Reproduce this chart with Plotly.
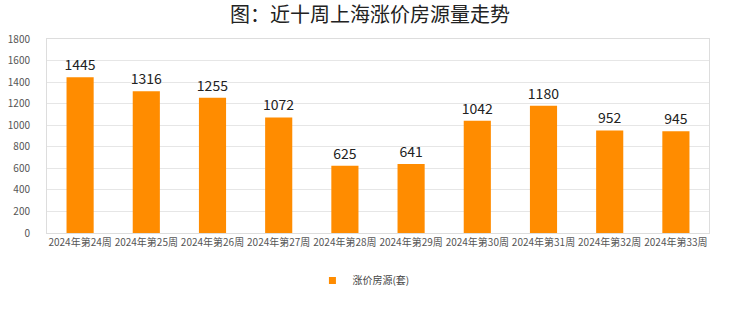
import plotly.graph_objects as go

categories = ["2024年第24周", "2024年第25周", "2024年第26周", "2024年第27周", "2024年第28周",
              "2024年第29周", "2024年第30周", "2024年第31周", "2024年第32周", "2024年第33周"]
values = [1445, 1316, 1255, 1072, 625, 641, 1042, 1180, 952, 945]
y_ticks = [0, 200, 400, 600, 800, 1000, 1200, 1400, 1600, 1800]
series_name = "涨价房源(套)"

FONT = "Noto Sans CJK SC"
ORANGE = "#FF8C00"

fig = go.Figure()
fig.add_trace(go.Bar(
    x=categories, y=values, name=series_name, showlegend=False,
    marker=dict(color=ORANGE, line=dict(width=0)),
    width=0.41,
    text=[str(v) for v in values], textposition="outside", constraintext="none",
    textfont=dict(size=14, color="#222222", family=FONT),
    cliponaxis=False,
))
# legend entry with a small square marker, as in the reference
fig.add_trace(go.Scatter(
    x=[None], y=[None], mode="markers", name=series_name, showlegend=True,
    marker=dict(symbol="square", size=7, color=ORANGE),
))

fig.update_layout(
    width=740, height=312,
    margin=dict(l=47, r=31, t=39, b=79, autoexpand=False),
    paper_bgcolor="white", plot_bgcolor="white",
    font=dict(family=FONT, color="#555555", size=10),
    title=dict(text="图：近十周上海涨价房源量走势", x=0.5, xanchor="center", y=0.952, yanchor="middle",
               font=dict(size=20, color="#222222", family=FONT)),
    showlegend=True,
    legend=dict(orientation="h", x=0.478, xanchor="center", y=-0.245, yanchor="middle",
                font=dict(size=10, color="#444444", family=FONT), itemwidth=30),
    bargap=0.59,
    xaxis=dict(showgrid=False, showline=True, linecolor="#dddddd", linewidth=1, mirror=True,
               ticks="", tickfont=dict(size=10, color="#555555"), tickangle=0),
    yaxis=dict(range=[0, 1800], tickvals=y_ticks, showgrid=True, gridcolor="#e6e6e6", gridwidth=1,
               showline=True, linecolor="#dddddd", mirror=True, zeroline=False,
               ticks="", ticklabelstandoff=14, tickfont=dict(size=10, color="#555555")),
)

fig.write_html("out.html")
